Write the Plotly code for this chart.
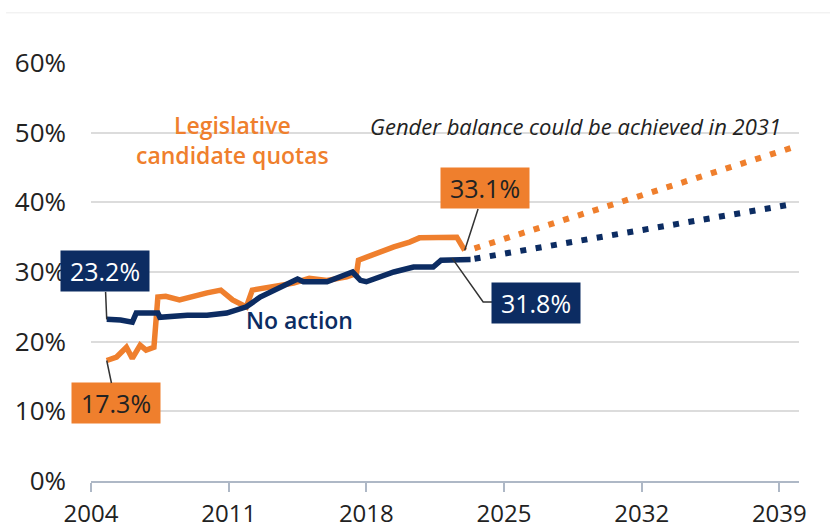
import plotly.graph_objects as go

# ---- data ----
quota_years = [2004.8, 2005.3, 2005.8, 2006.1, 2006.5, 2006.8, 2007.2, 2007.4, 2007.8, 2008.5,
               2009.9, 2010.6, 2011.2, 2011.9, 2012.2, 2012.95, 2013.1, 2014.3, 2015.1, 2016.0,
               2017.0, 2017.5, 2017.6, 2018.5, 2019.4, 2020.2, 2020.7, 2022.6, 2023.0]
quota_values = [17.3, 17.8, 19.2, 17.6, 19.5, 18.8, 19.2, 26.4, 26.5, 26.0,
                27.0, 27.4, 26.0, 25.0, 27.4, 27.7, 27.8, 28.4, 29.1, 28.8,
                29.3, 29.8, 31.7, 32.7, 33.6, 34.3, 34.9, 35.0, 33.1]

noaction_years = [2004.8, 2005.5, 2006.1, 2006.3, 2007.4, 2007.5, 2008.9, 2009.9, 2010.9, 2011.9,
                  2012.6, 2013.3, 2014.5, 2014.8, 2016.0, 2017.3, 2017.7, 2018.0, 2019.4, 2020.4,
                  2021.4, 2021.8, 2022.4, 2023.3]
noaction_values = [23.2, 23.1, 22.8, 24.1, 24.1, 23.5, 23.8, 23.8, 24.1, 25.0,
                   26.4, 27.4, 29.0, 28.6, 28.6, 30.0, 28.8, 28.6, 30.0, 30.7,
                   30.7, 31.7, 31.7, 31.8]

proj_years = [2023.5, 2039.6]
quota_proj = [33.4, 47.8]
noaction_proj = [31.9, 39.7]

x_ticks = [2004, 2011, 2018, 2025, 2032, 2039]
y_ticks = [0, 10, 20, 30, 40, 50, 60]

NAVY = "#0C2C62"
ORANGE = "#EF7F2D"
FONT = "Open Sans, Arial, sans-serif"

fig = go.Figure()
fig.add_trace(go.Scatter(x=proj_years, y=quota_proj, mode="lines",
                         line=dict(color=ORANGE, width=6, dash="6px,9.5px"), hoverinfo="skip"))
fig.add_trace(go.Scatter(x=proj_years, y=noaction_proj, mode="lines",
                         line=dict(color=NAVY, width=6, dash="6px,9.5px"), hoverinfo="skip"))
fig.add_trace(go.Scatter(x=quota_years, y=quota_values, mode="lines",
                         line=dict(color=ORANGE, width=5.5), name="Legislative candidate quotas"))
fig.add_trace(go.Scatter(x=noaction_years, y=noaction_values, mode="lines",
                         line=dict(color=NAVY, width=5.5), name="No action"))

box_font = dict(family=FONT, size=25)
annotations = [
    dict(x=noaction_years[0], y=noaction_values[0], ax=-2, ay=-48,
         text=f"{noaction_values[0]:.1f}%", font=dict(box_font, color="white"),
         bgcolor=NAVY, width=84, height=36, borderpad=2,
         showarrow=True, arrowhead=0, arrowwidth=1.5, arrowcolor="#333"),
    dict(x=quota_years[0], y=quota_values[0], ax=9, ay=43,
         text=f"{quota_values[0]:.1f}%", font=dict(box_font, color="#222"),
         bgcolor=ORANGE, width=84, height=36, borderpad=2,
         showarrow=True, arrowhead=0, arrowwidth=1.5, arrowcolor="#333"),
    dict(x=quota_years[-1], y=quota_values[-1], ax=20, ay=-62,
         text=f"{quota_values[-1]:.1f}%", font=dict(box_font, color="#222"),
         bgcolor=ORANGE, width=84, height=36, borderpad=2,
         showarrow=True, arrowhead=0, arrowwidth=1.5, arrowcolor="#333"),
    dict(x=2026.63, y=25.5, xref="x", yref="y",
         text=f"{noaction_values[-1]:.1f}%", font=dict(box_font, color="white"),
         bgcolor=NAVY, width=84, height=36, borderpad=2, showarrow=False),
    dict(x=2011.2, y=48.9, xref="x", yref="y", showarrow=False,
         text="Legislative<br>candidate quotas",
         font=dict(family=FONT, size=23, color=ORANGE, weight=600), align="center"),
    dict(x=2018.1, y=51.0, xref="x", yref="y", showarrow=False, xanchor="left",
         text="<i>Gender balance could be achieved in 2031</i>",
         font=dict(family=FONT, size=22, color="#222")),
    dict(x=2014.6, y=23.1, xref="x", yref="y", showarrow=False,
         text="No action", font=dict(family=FONT, size=23, color=NAVY, weight=600)),
]

shapes = [
    # elbow connector for 31.8% label
    dict(type="path", xref="x", yref="y",
         path="M 2022.36,32.0 L 2023.94,25.7 L 2024.45,25.7",
         line=dict(color="#333", width=1.5)),
    # faint frame line at top of image
    dict(type="line", xref="paper", yref="paper", x0=-0.12, x1=1.05, y0=1.12, y1=1.12,
         line=dict(color="#ececec", width=1)),
]

fig.update_layout(
    width=830, height=529,
    margin=dict(l=91, r=31, t=63, b=48),
    paper_bgcolor="white", plot_bgcolor="white",
    showlegend=False,
    font=dict(family=FONT, color="#222"),
    annotations=annotations,
    shapes=shapes,
    xaxis=dict(range=[2004, 2040], tickvals=x_ticks, ticktext=[str(t) for t in x_ticks],
               showgrid=False, zeroline=False, showline=True, linecolor="#aeb8c6", linewidth=1.5,
               ticks="outside", ticklen=9, tickcolor="#aeb8c6", tickwidth=1.5, automargin=False,
               tickfont=dict(family=FONT, size=24, color="#222"), ticklabelstandoff=1),
    yaxis=dict(range=[0, 60], tickvals=y_ticks, ticktext=[f"{v}%" for v in y_ticks],
               showgrid=True, gridcolor="#dcdcdc", gridwidth=1.5, zeroline=False, automargin=False,
               showline=False, ticks="", tickfont=dict(family=FONT, size=26, color="#222"),
               ticklabelstandoff=24),
)

fig.write_html("out.html", config={"displayModeBar": False},
               post_script="document.body.style.margin='0';")
